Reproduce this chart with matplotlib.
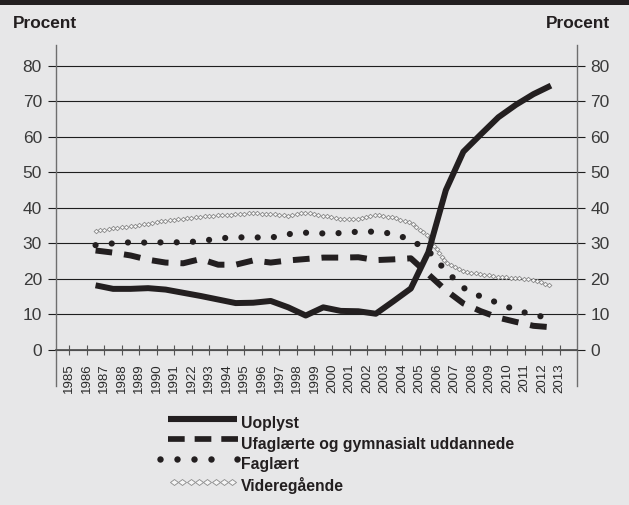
import numpy as np
import matplotlib
matplotlib.use("Agg")
import matplotlib.pyplot as plt
import matplotlib.transforms as mtransforms
from matplotlib.colors import to_rgb
from matplotlib.path import Path
from matplotlib.patches import Rectangle
from matplotlib.patheffects import AbstractPathEffect

plt.rcParams['font.family'] = ['Liberation Sans', 'DejaVu Sans']

# data, one value per year
years = list(range(1986, 2013))
uoplyst = [18.2, 17.2, 17.2, 17.4, 17.0, 16.1, 15.2, 14.2, 13.2, 13.3, 13.8, 12.0, 9.7,
           12.0, 11.0, 10.9, 10.2, 13.7, 17.3, 27.5, 45.0, 55.8, 60.7, 65.5, 69.0, 72.0, 74.4]
ufaglaerte = [28.0, 27.4, 26.6, 25.4, 24.6, 24.4, 25.6, 24.0, 24.0, 25.2, 24.6, 25.2, 25.6,
              26.0, 26.0, 26.1, 25.3, 25.5, 25.8, 21.3, 16.8, 13.1, 10.9, 9.1, 7.9, 6.8, 6.4]
faglaert = [29.5, 30.0, 30.3, 30.2, 30.3, 30.3, 30.6, 31.4, 31.7, 31.7, 31.6, 32.6, 33.0,
            32.8, 32.9, 33.3, 33.3, 32.7, 31.0, 27.9, 22.3, 17.5, 15.0, 13.2, 11.2, 9.9, 8.9]
videregaaende = [33.6, 34.2, 34.8, 35.6, 36.4, 37.0, 37.5, 37.9, 38.2, 38.5, 38.3, 37.8, 38.7,
                 37.8, 36.9, 36.9, 38.1, 37.3, 35.8, 32.0, 24.5, 22.2, 21.3, 20.6, 20.3, 19.7, 18.2]

tick_years = list(range(1985, 2014))
tick_labels = ["1985", "1986", "1987", "1988", "1989", "1990", "1991", "1922", "1993",
               "1994", "1995", "1996", "1997", "1998", "1999", "2000", "2001", "2002",
               "2003", "2004", "2005", "2006", "2007", "2008", "2009", "2010", "2011",
               "2012", "2013"]
y_ticks = [0, 10, 20, 30, 40, 50, 60, 70, 80]
names = ["Uoplyst", "Ufaglærte og gymnasialt uddannede", "Faglært", "Videregående"]


class DiamondChain(AbstractPathEffect):
    # draws small hollow diamonds along the stroke (pixel units)
    def __init__(self, step, w, h, edge="#8a8a8a", face="#f6f6f6", lw=0.6):
        super().__init__()
        self.step, self.w, self.h = step, w, h
        self.edge, self.face, self.lw = edge, face, lw

    def draw_path(self, renderer, gc, tpath, affine, rgbFace=None):
        pts = affine.transform(tpath.vertices)
        d = np.r_[0, np.cumsum(np.hypot(*np.diff(pts, axis=0).T))]
        s = np.arange(0, d[-1] + 0.01, self.step)
        xy = np.column_stack([np.interp(s, d, pts[:, 0]), np.interp(s, d, pts[:, 1])])
        gc0 = renderer.new_gc()
        gc0.copy_properties(gc)
        gc0.set_foreground(self.edge)
        gc0.set_linewidth(self.lw)
        gc0.set_dashes(0, None)
        marker = Path([(0, 1), (1, 0), (0, -1), (-1, 0), (0, 1)], closed=True)
        mt = mtransforms.Affine2D().scale(self.w, self.h)
        renderer.draw_markers(gc0, marker, mt, Path(xy), mtransforms.IdentityTransform(),
                              to_rgb(self.face))
        gc0.restore()


bg = "#e7e7e8"
ink = "#231f20"
fig = plt.figure(figsize=(6.29, 5.05), dpi=100, facecolor=bg)
W, H = 629, 505
ax = fig.add_axes([55.8 / W, 1 - 385.7 / H, (576.7 - 55.8) / W, (385.7 - 45) / H])
ax.set_facecolor(bg)

xs = np.array(years) + 0.5
ax.plot(xs, uoplyst, color=ink, lw=4.3, solid_capstyle="butt", solid_joinstyle="round", zorder=5)
ax.plot(xs, ufaglaerte, color=ink, lw=4.3, dashes=(2.8, 2.0), dash_capstyle="butt", zorder=4)
ax.plot(xs, faglaert, color=ink, lw=4.5, linestyle=(0, (0.001, 2.6)), dash_capstyle="round", zorder=4)
ax.plot(xs, videregaaende, color="#8a8a8a", lw=1, zorder=3,
        path_effects=[DiamondChain(4.4, 2.4, 2.2)])

ax.set_xlim(1984.23, 2013.97)
ax.set_ylim(-10.05, 85.83)
ax.set_yticks(y_ticks)
ax.set_yticklabels([str(v) for v in y_ticks])
ax.set_xticks(tick_years)
ax.set_xticklabels(tick_labels)
ax.yaxis.grid(True, color="#1e1e1e", lw=0.8)
ax.set_axisbelow(True)

ax.spines["top"].set_visible(False)
ax.spines["bottom"].set_position(("data", 0))
ax.spines["bottom"].set_color("#555555")
ax.spines["bottom"].set_linewidth(1.3)
ax.spines["bottom"].set_zorder(2.5)
for side in ["left", "right"]:
    ax.spines[side].set_color("#6e6e6e")
    ax.spines[side].set_linewidth(1.0)

ax.tick_params(axis="y", left=True, right=True, labelleft=True, labelright=True,
               direction="out", length=5.5, width=0.8, color="#1e1e1e",
               labelsize=12.5, labelcolor="#3a3a3a", pad=4.5)
ax.tick_params(axis="x", direction="inout", length=7, width=0.8, color="#555555",
               labelsize=9.5, labelcolor="#2a2a2a", pad=6, labelrotation=90)

# overlay in pixel coords for header band, titles and legend
ov = fig.add_axes([0, 0, 1, 1])
ov.set_xlim(0, W)
ov.set_ylim(H, 0)
ov.axis("off")
ov.add_patch(Rectangle((0, 0), W, 4.5, color=ink, lw=0))
ov.text(12.7, 28.3, "Procent", fontsize=12.4, fontweight="bold", color=ink, va="baseline", ha="left")
ov.text(610, 28.3, "Procent", fontsize=12.4, fontweight="bold", color=ink, va="baseline", ha="right")

ov.plot([168, 237], [418.7, 418.7], color=ink, lw=4.4, solid_capstyle="butt")
ov.plot([168, 238], [439.3, 439.3], color=ink, lw=4.1, dashes=(2.93, 1.75), dash_capstyle="butt")
ov.plot([160, 177, 194, 211, 237], [458.8] * 5, "o", color=ink, ms=4.6, mew=0)
ov.plot([174, 232.2], [482.3, 482.3], color="#8a8a8a", lw=1,
        path_effects=[DiamondChain(8.3, 4.0, 3.0)])
for name, yb in zip(names, [428, 448.5, 469, 490.5]):
    ov.text(241, yb, name, fontsize=11.3, fontweight="bold", color=ink, va="baseline", ha="left")

fig.savefig("out.png", dpi=100, facecolor=bg)
